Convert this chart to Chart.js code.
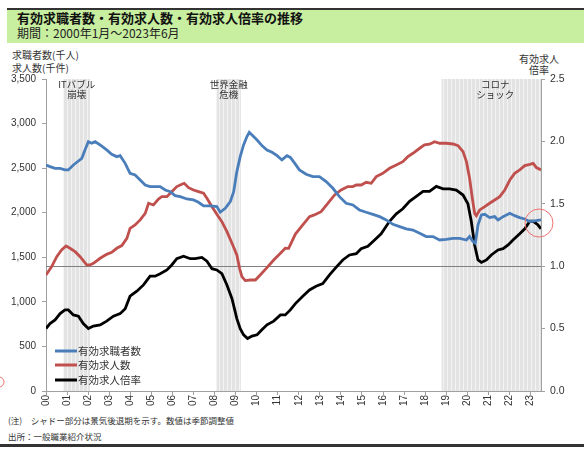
<!DOCTYPE html>
<html><head><meta charset="utf-8">
<script src="https://cdn.jsdelivr.net/npm/chart.js@4/dist/chart.umd.min.js"></script>
<style>
body{margin:0;width:584px;height:450px;position:relative;overflow:hidden;background:#fff;font-family:'Noto Sans CJK JP',sans-serif;color:#222}
.t{position:absolute;white-space:nowrap}
</style></head><body>
<div style="position:absolute;left:7px;top:8px;width:577px;height:35px;background:#c8eea0;border-top:2px solid #333;box-sizing:border-box"></div>
<div class="t" style="left:17px;top:10px;font-size:13px;line-height:16px;font-weight:bold;color:#111">有効求職者数・有効求人数・有効求人倍率の推移</div>
<div class="t" style="left:17px;top:25px;font-size:12px;line-height:16px;color:#222">期間：2000年1月～2023年6月</div>
<div class="t" style="left:12px;top:48px;font-size:10px;line-height:13px;color:#333">求職者数(千人)</div>
<div class="t" style="left:12px;top:61px;font-size:10px;line-height:13px;color:#333">求人数(千件)</div>
<div class="t" style="left:509px;width:60px;text-align:center;top:52px;font-size:10px;line-height:13px;color:#333">有効求人</div>
<div class="t" style="left:509px;width:60px;text-align:center;top:63px;font-size:10px;line-height:13px;color:#333">倍率</div>
<div class="t" style="left:8px;top:414px;font-size:8.5px;line-height:12px;color:#333">(注)　シャドー部分は景気後退期を示す。数値は季節調整値</div>
<div class="t" style="left:8px;top:430px;font-size:8.5px;line-height:12px;color:#333">出所：一般職業紹介状況</div>
<div style="position:absolute;left:0;top:444px;width:584px;height:3px;background:#333"></div>
<canvas id="c" width="584" height="450" style="position:absolute;left:0;top:0"></canvas>
<script>
// ---- data ----
const years = [2000,2001,2002,2003,2004,2005,2006,2007,2008,2009,2010,2011,2012,2013,2014,2015,2016,2017,2018,2019,2020,2021,2022,2023];
const xLabels = ['00','01','02','03','04','05','06','07','08','09','10','11','12','13','14','15','16','17','18','19','20','21','22','23'];
const leftTicks = [0,500,1000,1500,2000,2500,3000,3500];
const rightTicks = [0.0,0.5,1.0,1.5,2.0,2.5];

const seekersT = [2000.00,2000.19,2000.43,2000.67,2000.90,2001.06,2001.30,2001.54,2001.70,2001.85,2002.01,2002.17,2002.33,2002.57,2002.88,2003.12,2003.36,2003.52,2003.76,2003.99,2004.23,2004.47,2004.71,2004.94,2005.18,2005.42,2005.66,2005.90,2006.13,2006.37,2006.69,2007.00,2007.24,2007.48,2007.80,2008.11,2008.27,2008.51,2008.75,2008.91,2009.06,2009.22,2009.38,2009.54,2009.65,2009.78,2010.02,2010.25,2010.49,2010.73,2010.97,2011.20,2011.44,2011.60,2011.82,2012.03,2012.35,2012.67,2012.98,2013.30,2013.62,2013.93,2014.25,2014.57,2014.88,2015.20,2015.52,2015.84,2016.15,2016.47,2016.79,2017.10,2017.42,2017.74,2018.05,2018.37,2018.69,2019.00,2019.32,2019.64,2019.96,2020.11,2020.27,2020.38,2020.51,2020.67,2020.83,2021.06,2021.30,2021.46,2021.70,2022.02,2022.25,2022.49,2022.73,2022.97,2023.20,2023.50];
const seekersV = [2536,2517,2498,2498,2480,2480,2536,2580,2610,2704,2797,2779,2797,2760,2704,2655,2629,2640,2554,2442,2424,2367,2311,2293,2293,2293,2255,2236,2192,2180,2154,2143,2117,2076,2076,2068,2005,2050,2124,2236,2461,2629,2760,2854,2902,2872,2816,2753,2704,2678,2640,2592,2640,2620,2550,2480,2431,2405,2405,2349,2274,2180,2106,2087,2031,2005,1982,1956,1919,1870,1844,1818,1806,1769,1732,1732,1694,1702,1713,1713,1694,1732,1676,1657,1863,1975,1982,1945,1956,1919,1956,1993,1967,1945,1930,1900,1908,1919];

const openingsT = [2000.00,2000.27,2000.51,2000.74,2000.95,2001.14,2001.38,2001.62,2001.93,2002.09,2002.25,2002.57,2002.88,2003.12,2003.36,2003.60,2003.84,2003.99,2004.23,2004.47,2004.71,2004.87,2005.10,2005.34,2005.50,2005.74,2005.97,2006.21,2006.45,2006.56,2006.77,2007.00,2007.24,2007.48,2007.64,2007.88,2008.11,2008.35,2008.59,2008.83,2009.06,2009.19,2009.30,2009.46,2009.70,2009.94,2010.17,2010.49,2010.81,2011.13,2011.36,2011.52,2011.62,2011.84,2012.19,2012.51,2012.74,2013.06,2013.38,2013.70,2014.01,2014.33,2014.57,2014.73,2014.96,2015.20,2015.44,2015.68,2015.99,2016.31,2016.63,2016.94,2017.18,2017.42,2017.74,2017.97,2018.21,2018.45,2018.69,2019.00,2019.32,2019.56,2019.80,2019.96,2020.11,2020.24,2020.35,2020.43,2020.59,2020.83,2021.06,2021.30,2021.54,2021.78,2022.02,2022.25,2022.49,2022.73,2022.97,2023.13,2023.28,2023.50];
const openingsV = [1302,1395,1507,1582,1627,1601,1563,1507,1414,1414,1432,1489,1533,1556,1601,1631,1713,1825,1863,1919,1993,2106,2087,2154,2180,2180,2236,2293,2319,2330,2281,2255,2236,2218,2162,2068,1982,1900,1788,1657,1526,1376,1283,1238,1245,1245,1302,1384,1470,1545,1601,1600,1650,1760,1863,1956,1975,2012,2106,2199,2255,2293,2293,2311,2311,2341,2330,2405,2442,2498,2536,2573,2629,2667,2723,2760,2768,2797,2779,2779,2771,2753,2685,2573,2386,2162,1993,1967,2031,2068,2106,2143,2180,2255,2367,2442,2480,2528,2543,2554,2506,2480];

const ratioT = [2000.00,2000.19,2000.43,2000.67,2000.90,2001.06,2001.30,2001.54,2001.77,2002.01,2002.25,2002.57,2002.88,2003.20,2003.52,2003.76,2003.99,2004.31,2004.63,2004.94,2005.18,2005.42,2005.74,2005.97,2006.21,2006.53,2006.85,2007.08,2007.40,2007.64,2007.88,2008.11,2008.35,2008.59,2008.83,2009.06,2009.22,2009.38,2009.57,2009.78,2010.02,2010.25,2010.49,2010.81,2011.13,2011.36,2011.60,2011.84,2012.19,2012.51,2012.82,2013.14,2013.46,2013.77,2014.09,2014.41,2014.73,2014.96,2015.28,2015.60,2015.91,2016.31,2016.63,2016.94,2017.26,2017.58,2017.90,2018.21,2018.53,2018.85,2019.16,2019.48,2019.80,2020.03,2020.19,2020.35,2020.51,2020.67,2020.91,2021.14,2021.46,2021.70,2021.94,2022.17,2022.49,2022.73,2022.97,2023.13,2023.36,2023.50];
const ratioV = [0.50,0.54,0.57,0.62,0.65,0.65,0.61,0.60,0.54,0.50,0.52,0.53,0.56,0.60,0.62,0.66,0.76,0.80,0.85,0.92,0.92,0.94,0.97,1.01,1.06,1.08,1.06,1.06,1.07,1.04,0.98,0.97,0.94,0.85,0.74,0.58,0.50,0.45,0.42,0.44,0.45,0.49,0.53,0.56,0.61,0.61,0.65,0.70,0.76,0.81,0.84,0.86,0.93,0.99,1.05,1.09,1.10,1.14,1.16,1.21,1.26,1.36,1.42,1.46,1.52,1.56,1.60,1.60,1.64,1.62,1.62,1.61,1.57,1.50,1.36,1.17,1.05,1.03,1.05,1.09,1.13,1.14,1.17,1.21,1.26,1.30,1.36,1.36,1.33,1.30];

const recessionStart = [2000.82, 2008.10, 2018.78];
const recessionEnd = [2002.09, 2009.25, 2023.5];
const recessionLabel = [['ITバブル','崩壊'],['世界金融','危機'],['コロナ','ショック']];
const seriesNames = ['有効求職者数','有効求人数','有効求人倍率'];
const seriesColors = ['#4a7ebb','#c0504d','#000000'];

// ---- chart ----
Chart.defaults.font.family = "'Liberation Sans', Arial, sans-serif";
const toXY = (t, v) => t.map((x, i) => ({x: x, y: v[i]}));
const axisColor = '#a0a0a0';
const tickFont = {size: 10};

function makePattern(ctx){
  const c = document.createElement('canvas'); c.width = 4; c.height = 4;
  const g = c.getContext('2d');
  g.fillStyle = '#e3e3e3'; g.fillRect(0,0,4,4);
  g.fillStyle = '#f3f3f3'; g.fillRect(3,0,1,4);
  return ctx.createPattern(c, 'repeat');
}

const shadePlugin = {
  id: 'shade',
  beforeDatasetsDraw(chart){
    const {ctx, chartArea: a, scales} = chart;
    const xs = scales.x, y1 = scales.y1;
    ctx.save();
    ctx.fillStyle = makePattern(ctx);
    recessionStart.forEach((s, i) => {
      const x0 = xs.getPixelForValue(s), x1 = xs.getPixelForValue(recessionEnd[i]);
      ctx.fillRect(x0, a.top, x1 - x0, a.bottom - a.top);
    });
    ctx.fillStyle = '#333';
    ctx.font = "9.5px 'Noto Sans CJK JP'";
    ctx.textAlign = 'center'; ctx.textBaseline = 'middle';
    recessionStart.forEach((s, i) => {
      const cx = (xs.getPixelForValue(s) + xs.getPixelForValue(recessionEnd[i])) / 2 + (i === 2 ? 4 : 0);
      ctx.fillText(recessionLabel[i][0], cx, a.top + 5);
      ctx.fillText(recessionLabel[i][1], cx, a.top + 15);
    });
    const yl = Math.round(y1.getPixelForValue(1.0)) + 0.5;
    ctx.strokeStyle = '#808080'; ctx.lineWidth = 1;
    ctx.beginPath(); ctx.moveTo(a.left, yl); ctx.lineTo(a.right, yl); ctx.stroke();
    ctx.restore();
  },
  afterDraw(chart){
    const {ctx} = chart;
    ctx.save();
    // legend
    const rows = [351, 365, 380];
    ctx.font = "10.5px 'Noto Sans CJK JP'";
    ctx.textBaseline = 'middle'; ctx.textAlign = 'left';
    seriesNames.forEach((n, i) => {
      ctx.strokeStyle = seriesColors[i]; ctx.lineWidth = 3;
      ctx.beginPath(); ctx.moveTo(55, rows[i]); ctx.lineTo(77, rows[i]); ctx.stroke();
      ctx.fillStyle = '#333'; ctx.fillText(n, 78, rows[i]);
    });
    // red annotation circle
    ctx.strokeStyle = '#f07070'; ctx.lineWidth = 1;
    ctx.beginPath(); ctx.arc(539, 223, 14, 0, Math.PI * 2); ctx.stroke();
    ctx.beginPath(); ctx.arc(-1, 382, 5, 0, Math.PI * 2); ctx.stroke();
    ctx.restore();
  }
};

new Chart(document.getElementById('c'), {
  type: 'line',
  data: {
    datasets: [
      {label: seriesNames[0], data: toXY(seekersT, seekersV), yAxisID: 'y', borderColor: seriesColors[0], borderWidth: 2.8, pointRadius: 0, tension: 0},
      {label: seriesNames[1], data: toXY(openingsT, openingsV), yAxisID: 'y', borderColor: seriesColors[1], borderWidth: 2.8, pointRadius: 0, tension: 0},
      {label: seriesNames[2], data: toXY(ratioT, ratioV), yAxisID: 'y1', borderColor: seriesColors[2], borderWidth: 2.8, pointRadius: 0, tension: 0}
    ]
  },
  options: {
    responsive: false, animation: false,
    layout: {padding: {left: 0, right: 0, top: 79, bottom: 0}},
    plugins: {legend: {display: false}, tooltip: {enabled: false}},
    scales: {
      x: {
        type: 'linear', min: 2000, max: 2023.5,
        afterBuildTicks: s => { s.ticks = years.map(v => ({value: v})); },
        afterFit: s => { s.height = 59; },
        ticks: {autoSkip: false, minRotation: 90, maxRotation: 90, padding: 0, color: '#333', font: tickFont,
          callback: v => xLabels[years.indexOf(v)]},
        grid: {drawOnChartArea: false, tickLength: 4, color: axisColor},
        border: {color: axisColor}
      },
      y: {
        position: 'left', min: 0, max: 3500,
        afterBuildTicks: s => { s.ticks = leftTicks.map(v => ({value: v})); },
        afterFit: s => { s.width = 46; },
        ticks: {padding: 6, color: '#333', font: tickFont, callback: v => v.toLocaleString('en-US')},
        grid: {drawOnChartArea: false, tickLength: 4, color: axisColor},
        border: {color: axisColor}
      },
      y1: {
        position: 'right', min: 0, max: 2.5,
        afterBuildTicks: s => { s.ticks = rightTicks.map(v => ({value: v})); },
        afterFit: s => { s.width = 43; },
        ticks: {padding: 5, color: '#333', font: {size: 10.5}, callback: v => v.toFixed(1)},
        grid: {drawOnChartArea: false, tickLength: 4, color: axisColor},
        border: {color: axisColor}
      }
    }
  },
  plugins: [shadePlugin]
});
</script>
</body></html>
